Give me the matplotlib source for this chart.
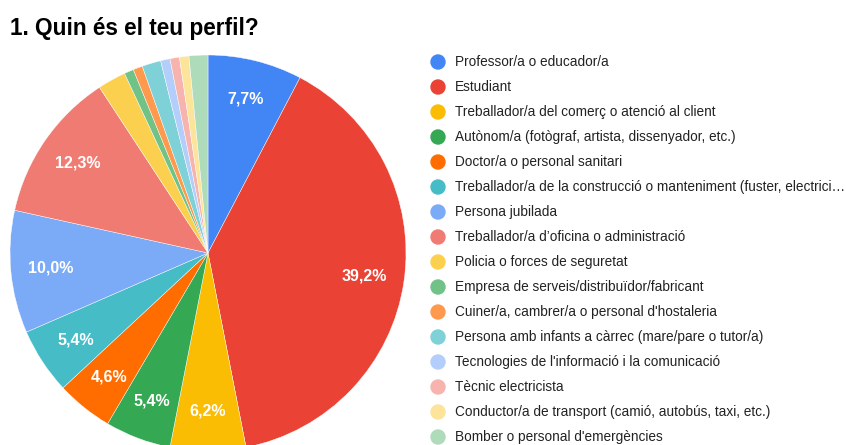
import matplotlib.pyplot as plt
from matplotlib.patches import Ellipse

plt.rcParams['font.family'] = ['Liberation Sans', 'DejaVu Sans']

labels = [
    "Professor/a o educador/a",
    "Estudiant",
    "Treballador/a del comerç o atenció al client",
    "Autònom/a (fotògraf, artista, dissenyador, etc.)",
    "Doctor/a o personal sanitari",
    "Treballador/a de la construcció o manteniment (fuster, electrici…",
    "Persona jubilada",
    "Treballador/a d’oficina o administració",
    "Policia o forces de seguretat",
    "Empresa de serveis/distribuïdor/fabricant",
    "Cuiner/a, cambrer/a o personal d'hostaleria",
    "Persona amb infants a càrrec (mare/pare o tutor/a)",
    "Tecnologies de l'informació i la comunicació",
    "Tècnic electricista",
    "Conductor/a de transport (camió, autobús, taxi, etc.)",
    "Bomber o personal d'emergències",
]
counts = [10, 51, 8, 7, 6, 7, 13, 16, 3, 1, 1, 2, 1, 1, 1, 2]
colors = ['#4285F4', '#EA4335', '#FBBC04', '#34A853', '#FF6D01', '#46BDC6',
          '#7BAAF7', '#F07B72', '#FCD04F', '#71C287', '#FF994D', '#7ED1D7',
          '#B3CEFB', '#F7B4AE', '#FDE49B', '#AEDCBA']

W, H = 846, 445
fig = plt.figure(figsize=(W / 100, H / 100), dpi=100)

# pie axes placed in pixels: center (208, 253), radius 198
cx, cy, r = 208, 253, 198
ax = fig.add_axes([(cx - r) / W, (H - cy - r) / H, 2 * r / W, 2 * r / H])


def fmt(p):
    return ('%.1f%%' % p).replace('.', ',') if p >= 4 else ''


wedges, texts, autotexts = ax.pie(
    counts, colors=colors, startangle=90, counterclock=False,
    autopct=fmt, pctdistance=0.8, radius=1,
    wedgeprops=dict(edgecolor='white', linewidth=0.3),
    textprops=dict(color='white', fontsize=11.5, fontweight='bold'))
ax.set_xlim(-1, 1)
ax.set_ylim(-1, 1)
ax.set_aspect('equal')
ax.axis('off')

fig.text(10 / W, 1 - 28 / H, "1. Quin és el teu perfil?", fontsize=16.3,
         fontweight='bold', color='#000000', ha='left', va='center')

# legend drawn as circles + text
for i, (lab, col) in enumerate(zip(labels, colors)):
    y = 1 - (62 + 25 * i) / H
    fig.add_artist(Ellipse((438 / W, y), 14 / W, 14 / H, color=col,
                           transform=fig.transFigure))
    fig.text(455 / W, y, lab, color='#222222', fontsize=9.8, ha='left',
             va='center')

fig.savefig('out.png', dpi=100)
